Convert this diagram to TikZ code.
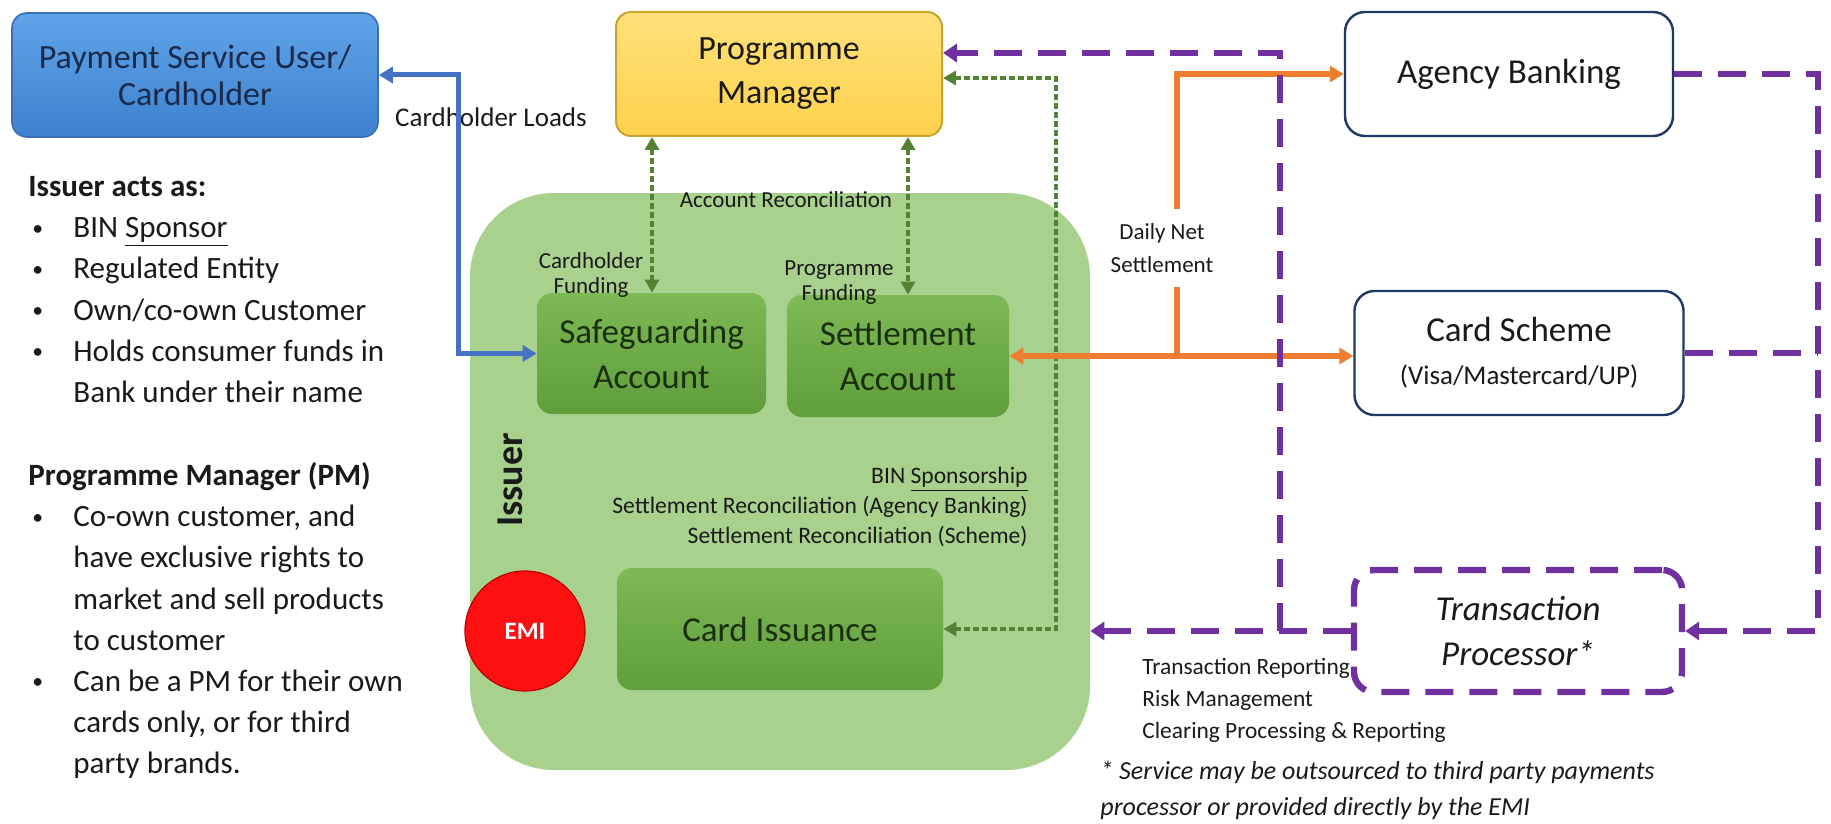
\documentclass[tikz,border=0pt]{standalone}
\usepackage{fontspec}
\setmainfont{Carlito}
\usepackage{graphicx}
\usepackage{tikz}
\usetikzlibrary{arrows.meta}

\definecolor{ink}{HTML}{1A1A1A}
\definecolor{psutop}{HTML}{5FA3E8}
\definecolor{psubot}{HTML}{3E82CF}
\definecolor{psuline}{HTML}{3A6FB5}
\definecolor{psutext}{HTML}{1B2A4A}
\definecolor{pmtop}{HTML}{FFE07A}
\definecolor{pmbot}{HTML}{FFD24D}
\definecolor{pmline}{HTML}{C9A52E}
\definecolor{issuergreen}{HTML}{A9D18E}
\definecolor{gtop}{HTML}{7DB955}
\definecolor{gbot}{HTML}{5F9E3B}
\definecolor{gtext}{HTML}{1C2E10}
\definecolor{navy}{HTML}{203864}
\definecolor{lblue}{HTML}{4472C4}
\definecolor{lorange}{HTML}{ED7D31}
\definecolor{lpurple}{HTML}{7030A0}
\definecolor{dgreen}{HTML}{548235}
\definecolor{emired}{HTML}{FF1010}
\definecolor{emidark}{HTML}{C00000}

\newcommand{\bul}{\hspace*{2pt}\makebox[20.5pt][l]{\raisebox{0.08em}{\scalebox{0.7}{\textbullet}}}}
\newcommand{\ind}{\hspace*{22.5pt}}

\begin{document}
\begin{tikzpicture}[x=0.5pt,y=-0.5pt,
    box/.style={rounded corners=7.5pt,align=center,inner sep=0pt,text=ink,font=\fontsize{17.5}{22.5}\selectfont},
    greenbox/.style={box,top color=gtop,bottom color=gbot,text=gtext,minimum height=61pt},
    whitebox/.style={box,draw=navy,line width=1.2pt,fill=white,rounded corners=10pt,minimum width=164pt,minimum height=62pt},
    listtxt/.style={anchor=north west,align=left,inner sep=0pt,text=ink,font=\fontsize{15.5}{20.6}\selectfont},
    smalltxt/.style={align=center,inner sep=0pt,text=ink,font=\fontsize{11.5}{12.5}\selectfont},
    blueline/.style={draw=lblue,line width=2.5pt,>={Triangle[length=7pt,width=8pt]}},
    orangeline/.style={draw=lorange,line width=3pt,>={Triangle[length=7pt,width=8pt]}},
    greenline/.style={draw=dgreen,line width=2.2pt,dash pattern=on 3pt off 1.5pt,>={Triangle[length=6.5pt,width=7pt]}},
    purpleline/.style={draw=lpurple,line width=3.2pt,dash pattern=on 14pt off 8pt,>={Triangle[length=7pt,width=9pt]}}]
\path[use as bounding box,fill=white] (0,0) rectangle (1831,824);

\node[fill=issuergreen,rounded corners=42pt,minimum width=310pt,minimum height=288.5pt] (issuer) at (780,481.5) {};
\node[rotate=90,text=ink,font=\fontsize{19}{19}\bfseries\selectfont] (issuerlbl) at (510,480) {Issuer};

\node[box,top color=psutop,bottom color=psubot,draw=psuline,line width=0.8pt,text=psutext,minimum width=183pt,minimum height=62pt,font=\fontsize{17}{18.5}\selectfont] (psu) at (195,75) {Payment Service User/\\Cardholder};
\node[box,top color=pmtop,bottom color=pmbot,draw=pmline,line width=1pt,minimum width=163pt,minimum height=62pt,font=\fontsize{17}{22}\selectfont] (pm) at (779,74) {Programme\\Manager};
\node[whitebox] (agency) at (1509,74) {Agency Banking};
\node[whitebox,minimum width=164.5pt,font=\fontsize{17.5}{21.5}\selectfont] (cscheme) at (1519,353) {Card Scheme\\{\fontsize{13.5}{16}\selectfont(Visa/Mastercard/UP)}};
\node[box,draw=lpurple,line width=3.2pt,dash pattern=on 14pt off 8pt,rounded corners=10pt,minimum width=164pt,minimum height=61pt,font=\fontsize{17.5}{22.5}\itshape] (tp) at (1518,631) {Transaction\\Processor*};

\node[greenbox,minimum width=114.5pt,minimum height=60.5pt] (safe) at (651.5,353.5) {Safeguarding\\Account};
\node[greenbox,minimum width=111pt] (settle) at (898,356) {Settlement\\Account};
\node[greenbox,minimum width=163pt] (issue) at (780,629) {Card Issuance};
\node[circle,fill=emired,draw=emidark,line width=0.6pt,minimum size=60pt,inner sep=0pt,text=white,font=\fontsize{12.5}{12.5}\bfseries\selectfont] (emi) at (525,631) {EMI};

\node[listtxt] (acts) at (28,176) {\textbf{Issuer acts as:}\\
  \bul BIN \underline{Sponsor}\\
  \bul Regulated Entity\\
  \bul Own/co-own Customer\\
  \bul Holds consumer funds in\\
  \ind Bank under their name};
\node[listtxt] (pmrole) at (28,462) {\textbf{Programme Manager (PM)}\\
  \bul Co-own customer, and\\
  \ind have exclusive rights to\\
  \ind market and sell products\\
  \ind to customer\\
  \bul Can be a PM for their own\\
  \ind cards only, or for third\\
  \ind party brands.};

\node[smalltxt,font=\fontsize{13.5}{15}\selectfont] (cload) at (491,117) {Cardholder Loads};
\node[smalltxt] (acrec) at (786,200) {Account Reconciliation};
\node[smalltxt] (chfund) at (591,275) {Cardholder\\Funding};
\node[smalltxt] (pmfund) at (839,283) {Programme\\Funding};
\node[smalltxt,anchor=east,align=right,font=\fontsize{11.8}{14.8}\selectfont] (binsp) at (1028,507) {BIN \underline{Sponsorship}\\Settlement Reconciliation (Agency Banking)\\Settlement Reconciliation (Scheme)};
\node[smalltxt,anchor=west,align=left,font=\fontsize{11.7}{16}\selectfont] (txrep) at (1142,700) {Transaction Reporting\\Risk Management\\Clearing Processing \& Reporting};
\node[smalltxt,anchor=west,align=left,font=\fontsize{13}{18}\itshape] (note) at (1100,790) {* Service may be outsourced to third party payments\\processor or provided directly by the EMI};

\coordinate (cf) at (652,0);
\coordinate (pf) at (908,0);
\coordinate (gv) at (1056,78);
\coordinate (ofork) at (1177,0);
\coordinate (pv) at (1280,53);
\coordinate (pr) at (1818,74);

\draw[blueline,<->] (psu.east) -- ++(80,0) |- (safe.west);
\draw[greenline,<->] (pm.south -| cf) -- (safe.north -| cf);
\draw[greenline,<->] (pm.south -| pf) -- (settle.north -| pf);
\draw[greenline,<->] (gv -| pm.east) -- (gv) |- (issue.east);
\draw[orangeline,<->] (settle.east) -- (settle.east -| cscheme.west);
\draw[orangeline,->] (settle.east -| ofork) |- (agency.west);
\node[smalltxt,fill=white,inner ysep=7pt,inner xsep=1pt,font=\fontsize{11.5}{16.5}\selectfont] (dns) at (1162,248) {Daily Net\\Settlement};
\draw[purpleline,->] (tp.west) -- (tp.west -| issuer.east);
\draw[purpleline,->] (tp.west -| pv) -- (pv) -- (pv -| pm.east);
\draw[purpleline,->] (agency.east) -| (pr |- tp.east) -- (tp.east);
\draw[purpleline] (cscheme.east) -- (cscheme.east -| pr);
\end{tikzpicture}
\end{document}
